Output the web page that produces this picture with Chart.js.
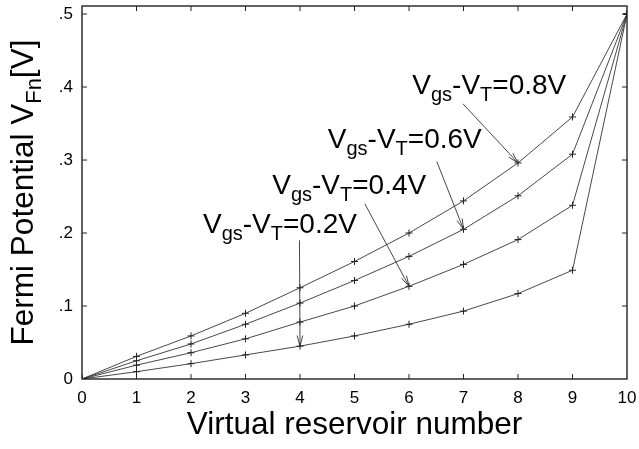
<!DOCTYPE html>
<html>
<head>
<meta charset="utf-8">
<script src="https://cdn.jsdelivr.net/npm/chart.js@4.4.0/dist/chart.umd.min.js"></script>
<style>
html,body{margin:0;padding:0;background:#fff;}
#wrap{width:639px;height:449px;position:relative;}
</style>
</head>
<body>
<div id="wrap"><canvas id="c" width="639" height="449"></canvas></div>
<script>
// ---- data ----
const reservoirs = [0,1,2,3,4,5,6,7,8,9,10];
const series08 = [0,0.031,0.059,0.090,0.125,0.161,0.200,0.244,0.296,0.359,0.5];
const series06 = [0,0.025,0.048,0.075,0.104,0.135,0.168,0.205,0.251,0.308,0.5];
const series04 = [0,0.019,0.036,0.055,0.078,0.100,0.127,0.157,0.191,0.238,0.5];
const series02 = [0,0.010,0.021,0.033,0.045,0.059,0.075,0.093,0.117,0.149,0.5];
const yTickValues = [0,0.1,0.2,0.3,0.4,0.5];
const yTickLabels = ['0','.1','.2','.3','.4','.5'];
const xTickLabels = ['0','1','2','3','4','5','6','7','8','9','10'];
const labelValues = ['0.8','0.6','0.4','0.2'];
const labelTargetIndex = [8,7,6,4];

const FONT = "'Liberation Sans', Arial, Helvetica, sans-serif";
const seriesList = [series08, series06, series04, series02];

// annotation placement (data coordinates)
const annot = [
  {tx:6.06, ty:0.391, ax:6.99, ay:0.377},
  {tx:4.51, ty:0.316, ax:6.51, ay:0.298},
  {tx:3.49, ty:0.254, ax:5.19, ay:0.240},
  {tx:2.22, ty:0.2007, ax:3.99, ay:0.190}
];

function richWidth(ctx, parts, size, subSize){
  let w = 0;
  for (const p of parts){
    ctx.font = (p.sub ? subSize : size) + 'px ' + FONT;
    w += ctx.measureText(p.t).width;
  }
  return w;
}
function drawRich(ctx, parts, x, y, size, subSize, subOff){
  for (const p of parts){
    ctx.font = (p.sub ? subSize : size) + 'px ' + FONT;
    ctx.fillText(p.t, x, y + (p.sub ? subOff : 0));
    x += ctx.measureText(p.t).width;
  }
}

const frame = {
  id:'frame',
  afterDraw(chart){
    const ctx = chart.ctx;
    const a = chart.chartArea;
    const xs = chart.scales.x, ys = chart.scales.y;
    ctx.save();
    ctx.strokeStyle = '#222';
    ctx.lineWidth = 1.4;
    ctx.strokeRect(a.left, a.top, a.right - a.left, a.bottom - a.top);
    ctx.lineWidth = 1;
    const tl = 5;
    ctx.beginPath();
    for (let i = 1; i < reservoirs.length - 1; i++){
      const px = xs.getPixelForValue(reservoirs[i]);
      ctx.moveTo(px, a.bottom); ctx.lineTo(px, a.bottom - tl);
      ctx.moveTo(px, a.top); ctx.lineTo(px, a.top + tl);
    }
    for (let i = 1; i < yTickValues.length; i++){
      const py = ys.getPixelForValue(yTickValues[i]);
      ctx.moveTo(a.left, py); ctx.lineTo(a.left + tl, py);
      ctx.moveTo(a.right, py); ctx.lineTo(a.right - tl, py);
    }
    ctx.stroke();

    // annotations
    ctx.fillStyle = '#000';
    ctx.textBaseline = 'alphabetic';
    ctx.textAlign = 'left';
    for (let k = 0; k < annot.length; k++){
      const an = annot[k];
      const parts = [{t:'V'},{t:'gs',sub:true},{t:'-'},{t:'V'},{t:'T',sub:true},{t:'='+labelValues[k]+'V'}];
      drawRich(ctx, parts, xs.getPixelForValue(an.tx), ys.getPixelForValue(an.ty), 28, 20, 7);
      const x0 = xs.getPixelForValue(an.ax), y0 = ys.getPixelForValue(an.ay);
      const idx = labelTargetIndex[k];
      const x1 = xs.getPixelForValue(reservoirs[idx]), y1 = ys.getPixelForValue(seriesList[k][idx]);
      ctx.strokeStyle = '#333';
      ctx.lineWidth = 0.9;
      ctx.beginPath(); ctx.moveTo(x0, y0); ctx.lineTo(x1, y1); ctx.stroke();
      const ang = Math.atan2(y1 - y0, x1 - x0);
      const hl = 11, ha = 0.26;
      ctx.beginPath();
      ctx.moveTo(x1 - hl*Math.cos(ang - ha), y1 - hl*Math.sin(ang - ha));
      ctx.lineTo(x1, y1);
      ctx.lineTo(x1 - hl*Math.cos(ang + ha), y1 - hl*Math.sin(ang + ha));
      ctx.stroke();
    }

    // axis titles
    ctx.fillStyle = '#000';
    ctx.font = '31.5px ' + FONT;
    ctx.textAlign = 'center';
    ctx.textBaseline = 'alphabetic';
    ctx.fillText('Virtual reservoir number', (a.left + a.right)/2, 434);
    ctx.textAlign = 'left';
    const yparts = [{t:'Fermi Potential V'},{t:'Fn',sub:true},{t:'[V]'}];
    const w = richWidth(ctx, yparts, 31.5, 22);
    ctx.translate(33, (a.top + a.bottom)/2);
    ctx.rotate(-Math.PI/2);
    drawRich(ctx, yparts, -w/2, 0, 31.5, 22, 8);
    ctx.restore();
  }
};

const mk = (d) => ({
  data: d.map((v,i) => ({x: reservoirs[i], y: v})),
  borderColor:'#333', borderWidth:0.9, pointStyle:'cross', pointRadius:3.5,
  pointBorderColor:'#222', pointBorderWidth:1, fill:false, tension:0
});

new Chart(document.getElementById('c'), {
  type:'line',
  data:{ datasets: seriesList.map(mk) },
  options:{
    responsive:false, animation:false, devicePixelRatio:1,
    layout:{padding:{left:0,right:12,top:6,bottom:0}},
    plugins:{legend:{display:false}, tooltip:{enabled:false}},
    scales:{
      x:{type:'linear', min:0, max:10,
        grid:{display:false, drawTicks:false}, border:{display:false},
        afterBuildTicks(s){ s.ticks = reservoirs.map(v => ({value:v})); },
        afterFit(s){ s.height = 70; s.paddingLeft = 0; s.paddingRight = 0; },
        ticks:{padding:9, color:'#000', font:{family:FONT, size:17},
          callback:(v) => xTickLabels[reservoirs.indexOf(v)] ?? ''}
      },
      y:{type:'linear', min:0, max:0.511,
        grid:{display:false, drawTicks:false}, border:{display:false},
        afterBuildTicks(s){ s.ticks = yTickValues.map(v => ({value:v})); },
        afterFit(s){ s.width = 82; s.paddingTop = 0; s.paddingBottom = 0; },
        ticks:{padding:9, color:'#000', font:{family:FONT, size:17},
          callback:(v) => { const i = yTickValues.findIndex(t => Math.abs(t - v) < 1e-9); return i >= 0 ? yTickLabels[i] : ''; }}
      }
    }
  },
  plugins:[frame]
});
</script>
</body>
</html>
